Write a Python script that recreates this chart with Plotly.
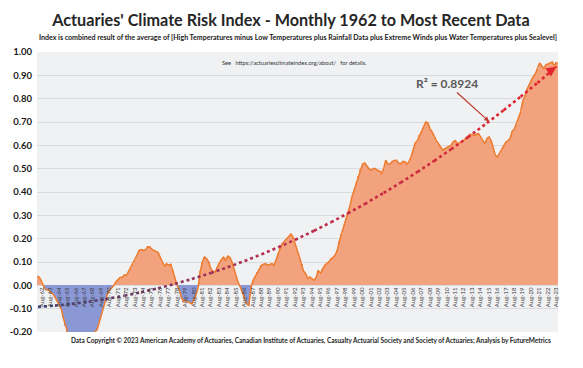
import numpy as np
import pandas as pd
import plotly.graph_objects as go

# Quarterly readings of the Actuaries' Climate Index (Q1..Q4 per year), 1962 -> 2023 Q3
acri_1962_1979 = [
    0.04, 0.03, 0.01, -0.01,
    -0.02, -0.02, -0.03, -0.035,
    -0.05, -0.065, -0.08, -0.10,
    -0.14, -0.175, -0.20, -0.21,
    -0.22, -0.23, -0.23, -0.22,
    -0.23, -0.22, -0.23, -0.22,
    -0.21, -0.22, -0.21, -0.20,
    -0.19, -0.16, -0.13, -0.10,
    -0.07, -0.035, -0.02, -0.01,
    0.0, 0.015, 0.025, 0.034,
    0.035, 0.045, 0.043, 0.06,
    0.073, 0.09, 0.11, 0.13,
    0.15, 0.153, 0.15, 0.152,
    0.165, 0.165, 0.155, 0.15,
    0.145, 0.14, 0.12, 0.10,
    0.08, 0.093, 0.086, 0.09,
    0.064, 0.03, 0.0, -0.02,
    -0.05, -0.07, -0.065, -0.07,
]
acri_1980_1999 = [
    -0.075, -0.08, -0.06, -0.04,
    -0.007, 0.06, 0.10, 0.121,
    0.114, 0.10, 0.071, 0.06,
    0.057, 0.08, 0.095, 0.11,
    0.12, 0.107, 0.125, 0.12,
    0.10, 0.07, 0.04, 0.01,
    -0.007, -0.03, -0.05, -0.08,
    -0.086, -0.01, 0.02, 0.036,
    0.057, 0.07, 0.086, 0.09,
    0.093, 0.086, 0.09, 0.093,
    0.086, 0.11, 0.14, 0.16,
    0.18, 0.19, 0.20, 0.21,
    0.22, 0.207, 0.18, 0.15,
    0.121, 0.09, 0.06, 0.05,
    0.029, 0.036, 0.03, 0.021,
    0.035, 0.064, 0.05, 0.07,
    0.086, 0.093, 0.10, 0.114,
    0.12, 0.13, 0.15, 0.19,
    0.22, 0.26, 0.29, 0.31,
    0.34, 0.38, 0.41, 0.44,
]
acri_2000_2023 = [
    0.47, 0.50, 0.52, 0.524,
    0.51, 0.50, 0.493, 0.50,
    0.50, 0.493, 0.49, 0.48,
    0.50, 0.536, 0.52, 0.52,
    0.53, 0.535, 0.536, 0.525,
    0.52, 0.53, 0.53, 0.52,
    0.53, 0.55, 0.58, 0.61,
    0.62, 0.643, 0.66, 0.68,
    0.70, 0.696, 0.67, 0.657,
    0.636, 0.62, 0.607, 0.59,
    0.579, 0.586, 0.59, 0.593,
    0.60, 0.615, 0.62, 0.607,
    0.61, 0.614, 0.621, 0.63,
    0.636, 0.647, 0.645, 0.643,
    0.648, 0.65, 0.636, 0.62,
    0.607, 0.629, 0.636, 0.62,
    0.593, 0.557, 0.55, 0.565,
    0.579, 0.596, 0.614, 0.62,
    0.629, 0.66, 0.67, 0.693,
    0.72, 0.743, 0.79, 0.81,
    0.84, 0.86, 0.879, 0.895,
    0.907, 0.929, 0.953, 0.94,
    0.93, 0.945, 0.95, 0.955,
    0.957, 0.94, 0.957,
]
start_year = 1962
quarter_mid_months = [2, 5, 8, 11]
y_tick_values = [-0.2, -0.1, 0.0, 0.1, 0.2, 0.3, 0.4, 0.5, 0.6, 0.7, 0.8, 0.9, 1.0]
y_tick_labels = ["-0.20", "-0.10", "0.00", "0.10", "0.20", "0.30", "0.40", "0.50",
                 "0.60", "0.70", "0.80", "0.90", "1.00"]
r2_label = "R² = 0.8924"

values = np.array(acri_1962_1979 + acri_1980_1999 + acri_2000_2023)
n = len(values)
dates = [pd.Timestamp(start_year + i // 4, quarter_mid_months[i % 4], 15) for i in range(n)]
dec_year = np.array([start_year + (i // 4) + (i % 4) * 0.25 + 0.125 for i in range(n)])

FONT = "Lato"
POS = "#F3A27E"
NEG = "#8A98D6"
LINE = "#ED7D31"

fig = go.Figure()
fig.add_trace(go.Bar(
    x=dates, y=values,
    width=[93 * 86400000] * n,
    marker=dict(color=[POS if v >= 0 else NEG for v in values], line=dict(width=0)),
    showlegend=False, hoverinfo="skip",
))
fig.add_trace(go.Scatter(
    x=dates, y=values, mode="lines",
    line=dict(color=LINE, width=1.6), showlegend=False, hoverinfo="skip",
))

# polynomial trendline with a navy -> red colour gradient
coef = np.polyfit(dec_year, values, 2)
trend = np.polyval(coef, dec_year)
def lerp(c1, c2, t):
    return "rgb(%d,%d,%d)" % tuple(int(round(a + (b - a) * t)) for a, b in zip(c1, c2))
c_start, c_mid, c_end = (62, 66, 112), (176, 46, 84), (226, 36, 44)
nseg = 30
idx = np.linspace(0, n - 1, nseg + 1).astype(int)
for s in range(nseg):
    t = s / (nseg - 1)
    col = lerp(c_start, c_mid, t / 0.4) if t < 0.4 else lerp(c_mid, c_end, (t - 0.4) / 0.6)
    a, b = idx[s], idx[s + 1]
    fig.add_trace(go.Scatter(
        x=dates[a:b + 1], y=trend[a:b + 1], mode="lines",
        line=dict(color=col, width=2.6, dash="dot"),
        showlegend=False, hoverinfo="skip",
    ))

y_range = [-0.2, 1.0]
zero_pos = (0 - y_range[0]) / (y_range[1] - y_range[0])

# the page body adds an 8px offset, so the figure is 8px smaller than the window
fig.update_layout(
    width=575, height=360,
    margin=dict(l=29, r=25, t=44, b=36),
    paper_bgcolor="white", plot_bgcolor="#F0F1F3",
    bargap=0,
    font=dict(family=FONT),
    title=dict(
        text="Actuaries' Climate Risk Index - Monthly 1962 to Most Recent Data",
        x=0.492, xanchor="center", xref="container",
        y=0.967, yanchor="middle", yref="container",
        font=dict(family=FONT, size=16.2, color="#262626", weight="bold"),
    ),
    xaxis=dict(
        type="date", range=["1962-01-01", "2023-10-20"],
        tick0="1962-08-01", dtick="M12", tickformat="%b-%y",
        tickangle=-90, tickfont=dict(size=6, color="#404040"),
        anchor="free", position=zero_pos, automargin=False,
        showgrid=False, zeroline=False, showline=False, ticks="",
    ),
    yaxis=dict(
        range=y_range, tickvals=y_tick_values, ticktext=y_tick_labels,
        tickfont=dict(size=9.5, color="#1a1a1a", weight="bold"),
        showgrid=True, gridcolor="#D9DBDF", gridwidth=1, automargin=False,
        zeroline=False, showline=False, ticks="", ticklabelstandoff=4,
    ),
)

fig.add_annotation(
    text="Index is combined result of the average of [High Temperatures minus Low Temperatures plus Rainfall Data plus Extreme Winds plus Water Temperatures plus Sealevel]",
    xref="paper", yref="paper", x=0.5, y=1.05, xanchor="center", yanchor="middle",
    showarrow=False, font=dict(size=7.05, color="#1a1a1a", weight="bold"),
)
fig.add_annotation(
    text="See &nbsp; https://actuariesclimateindex.org/about/ &nbsp; for details.",
    xref="paper", yref="paper", x=0.495, y=0.964, xanchor="center", yanchor="middle",
    showarrow=False, font=dict(size=5.7, color="#333333"),
)
fig.add_annotation(
    text="Data Copyright © 2023 American Academy of Actuaries, Canadian Institute of Actuaries, Casualty Actuarial Society and Society of Actuaries; Analysis by FutureMetrics",
    xref="paper", yref="paper", x=0.525, y=-0.032, xanchor="center", yanchor="middle",
    showarrow=False, font=dict(size=6.5, color="#262626", weight="bold"),
)
# R² label pointing at the trendline
k = int(np.argmin(np.abs(dec_year - 2015.7)))
fig.add_annotation(
    text=r2_label, x=dates[k], y=trend[k], ax=-42, ay=-38,
    showarrow=True, arrowhead=2, arrowsize=0.8, arrowwidth=1.2, arrowcolor="#C0392B",
    font=dict(size=12, color="#595959", weight="bold"),
)
# arrowhead at the end of the trendline
fig.add_annotation(
    text="", x=dates[-1], y=trend[-1], ax=-9, ay=6,
    showarrow=True, arrowhead=2, arrowsize=1, arrowwidth=2, arrowcolor="rgb(226,36,44)",
)

fig.write_html("out.html")
